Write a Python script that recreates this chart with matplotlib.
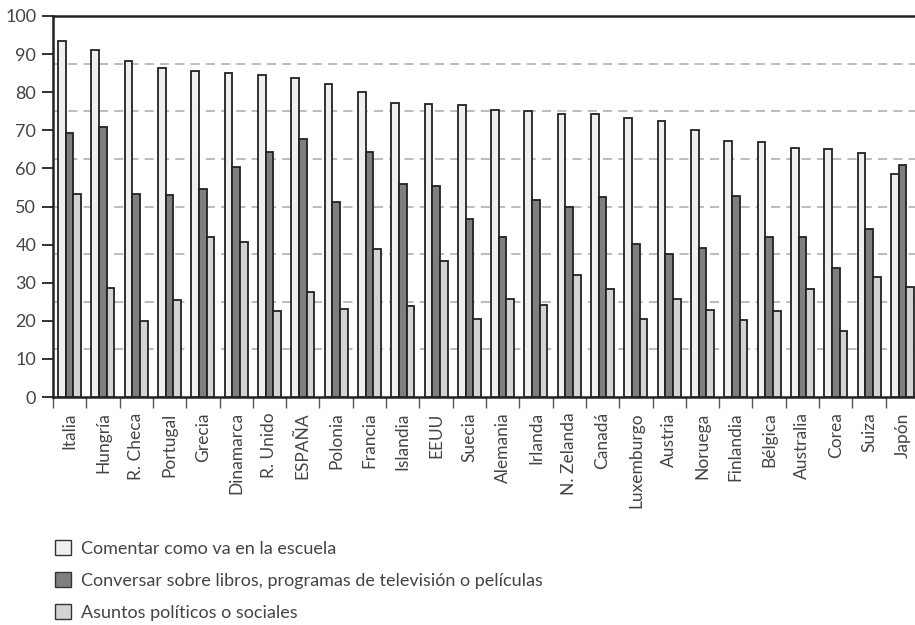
import matplotlib
matplotlib.use("Agg")
import matplotlib.pyplot as plt
import numpy as np
from matplotlib import font_manager
from matplotlib.patches import Patch

countries = ["Italia", "Hungría", "R. Checa", "Portugal", "Grecia", "Dinamarca",
             "R. Unido", "ESPAÑA", "Polonia", "Francia", "Islandia", "EEUU",
             "Suecia", "Alemania", "Irlanda", "N. Zelanda", "Canadá", "Luxemburgo",
             "Austria", "Noruega", "Finlandia", "Bélgica", "Australia", "Corea",
             "Suiza", "Japón"]
escuela = [93.4, 91.1, 88.2, 86.3, 85.6, 85.0, 84.4, 83.7, 82.2, 80.1, 77.1, 76.9,
           76.7, 75.3, 75.1, 74.2, 74.2, 73.1, 72.4, 70.0, 67.2, 66.9, 65.3, 65.1,
           64.1, 58.4]
libros = [69.4, 70.8, 53.2, 53.1, 54.6, 60.4, 64.2, 67.8, 51.3, 64.2, 56.0, 55.5,
          46.7, 42.0, 51.8, 50.0, 52.5, 40.2, 37.5, 39.1, 52.7, 42.0, 42.0, 33.8,
          44.1, 60.8]
politicos = [53.2, 28.7, 19.9, 25.4, 42.0, 40.7, 22.6, 27.5, 23.0, 38.9, 24.0, 35.7,
             20.6, 25.7, 24.1, 32.0, 28.4, 20.6, 25.7, 22.9, 20.1, 22.6, 28.4, 17.3,
             31.5, 28.9]
series_labels = ["Comentar como va en la escuela",
                 "Conversar sobre libros, programas de televisión o películas",
                 "Asuntos políticos o sociales"]
yticks = [0, 10, 20, 30, 40, 50, 60, 70, 80, 90, 100]
gridvals = [12.5, 25, 37.5, 50, 62.5, 75, 87.5]

avail = {f.name for f in font_manager.fontManager.ttflist}
base = "Lato" if "Lato" in avail else "DejaVu Sans"
plt.rcParams["font.family"] = [base, "DejaVu Sans"]

colors = ["#efefef", "#7f7f7f", "#d3d3d3"]
edge = "#222222"
txt = "#444444"

fig = plt.figure(figsize=(9.15, 6.25), dpi=100)
ax = fig.add_axes([53/915, 1 - 397/625, 866/915, (397 - 16)/625])

x = np.arange(len(countries))
w = 0.23
for i, (vals, c) in enumerate(zip([escuela, libros, politicos], colors)):
    ax.bar(x + (i - 1) * w, vals, width=w, color=c, edgecolor=edge,
           linewidth=1.3, zorder=3)

for g in gridvals:
    ax.axhline(g, color="#aaaaaa", lw=1.1, ls=(0, (6, 4)), zorder=1)

ax.set_xlim(-0.5, len(countries) - 0.5)
ax.set_ylim(0, 100)
ax.set_yticks(yticks)
ax.set_yticklabels([str(v) for v in yticks])
ax.set_xticks(x)
ax.set_xticklabels(countries, rotation=90, ha="center", va="top")
ax.set_xticks(np.arange(-0.5, len(countries), 1.0), minor=True)

ax.tick_params(axis="y", length=8, width=1.3, color=edge, pad=4,
               labelsize=13, labelcolor=txt)
ax.tick_params(axis="x", which="major", length=0, pad=11, labelsize=12.5,
               labelcolor=txt)
ax.tick_params(axis="x", which="minor", length=8, width=1.0, color="#555555")

for s in ["left", "top", "bottom"]:
    ax.spines[s].set_linewidth(1.8)
    ax.spines[s].set_color(edge)
ax.spines["right"].set_visible(False)

handles = [Patch(facecolor=c, edgecolor="#333333", linewidth=1.0) for c in colors]
fig.legend(handles, series_labels, loc="upper left",
           bbox_to_anchor=(55/915, 1 - 540/625), frameon=False,
           fontsize=13, handlelength=0.9, handleheight=0.9, handletextpad=0.55,
           labelspacing=0.85, labelcolor=txt, borderaxespad=0, borderpad=0)

fig.savefig("out.png", dpi=100)
